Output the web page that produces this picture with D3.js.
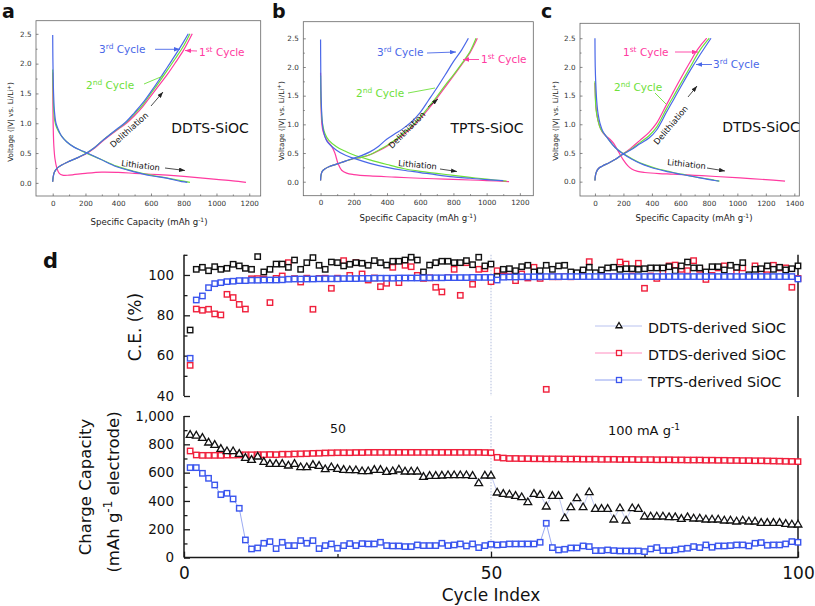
<!DOCTYPE html>
<html><head><meta charset="utf-8">
<script src="https://cdn.jsdelivr.net/npm/d3@7"></script>
<style>
body{margin:0;background:#fff}
svg{display:block}
text{font-family:"DejaVu Sans",Verdana,sans-serif}
</style>
</head><body><script>
// ---------- DATA: voltage profiles [capacity mAh/g, voltage V] ----------
const aLith1 = [[0,1.85],[1,1.4],[3,0.95],[7,0.62],[14,0.4],[25,0.25],[40,0.16],[60,0.13],[100,0.13],[200,0.16],[300,0.18],[400,0.175],[500,0.16],[600,0.145],[700,0.13],[800,0.11],[900,0.085],[1000,0.06],[1100,0.035],[1180,0.01]];
const aLith2 = [[0,1.9],[2,1.6],[5,1.3],[12,1.05],[25,0.92],[50,0.8],[85,0.69],[130,0.6],[190,0.52],[290,0.4],[390,0.28],[490,0.2],[600,0.13],[700,0.08],[790,0.035],[838,0.01]];
const aLith3 = [[0,2.48],[1,2.1],[3,1.75],[6,1.45],[10,1.22],[20,1.0],[35,0.89],[55,0.78],[85,0.69],[130,0.6],[187,0.53],[289,0.4],[390,0.27],[492,0.19],[600,0.12],[696,0.08],[787,0.02],[822,0.01]];
const aDelith1 = [[0,0.02],[3,0.1],[10,0.18],[25,0.24],[50,0.29],[100,0.36],[150,0.42],[200,0.48],[250,0.57],[300,0.69],[350,0.8],[400,0.9],[450,1.0],[500,1.13],[550,1.28],[600,1.46],[650,1.64],[700,1.82],[750,2.02],[800,2.23],[852,2.5]];
const aDelith2 = [[0,0.02],[3,0.1],[10,0.18],[25,0.24],[50,0.29],[100,0.36],[150,0.42],[200,0.49],[250,0.58],[300,0.7],[350,0.81],[400,0.91],[450,1.02],[500,1.16],[550,1.31],[600,1.5],[650,1.69],[700,1.89],[750,2.09],[800,2.3],[838,2.5]];
const aDelith3 = [[0,0.02],[3,0.1],[10,0.18],[25,0.24],[50,0.29],[100,0.36],[150,0.42],[200,0.49],[250,0.58],[300,0.7],[350,0.81],[400,0.92],[450,1.03],[500,1.18],[550,1.34],[600,1.53],[650,1.73],[700,1.94],[750,2.15],[800,2.37],[828,2.5]];

const bLith1 = [[0,1.9],[3,1.3],[8,1.0],[16,0.87],[36,0.73],[66,0.62],[86,0.5],[106,0.31],[127,0.2],[157,0.15],[200,0.125],[297,0.1],[450,0.08],[598,0.06],[750,0.045],[900,0.03],[1000,0.02],[1135,0.0]];
const bLith2 = [[0,1.85],[3,1.4],[10,1.05],[26,0.84],[50,0.72],[96,0.61],[150,0.53],[197,0.47],[297,0.38],[400,0.3],[498,0.23],[600,0.18],[699,0.145],[800,0.11],[900,0.075],[1000,0.045],[1120,0.01]];
const bLith3 = [[0,2.48],[1,2.0],[4,1.4],[16,0.9],[40,0.7],[96,0.55],[150,0.46],[197,0.41],[297,0.32],[400,0.25],[498,0.2],[600,0.16],[699,0.12],[800,0.085],[900,0.06],[1000,0.035],[1100,0.02]];
const bDelith1 = [[0,0.02],[3,0.12],[10,0.18],[25,0.22],[50,0.26],[100,0.31],[150,0.36],[197,0.4],[250,0.43],[297,0.47],[350,0.54],[400,0.62],[450,0.72],[498,0.82],[550,0.95],[600,1.1],[650,1.27],[699,1.45],[750,1.65],[799,1.84],[850,2.04],[900,2.25],[944,2.5]];
const bDelith2 = [[0,0.02],[3,0.12],[10,0.18],[25,0.22],[50,0.26],[100,0.31],[150,0.36],[197,0.4],[250,0.43],[297,0.47],[350,0.55],[400,0.63],[450,0.73],[498,0.84],[550,0.97],[600,1.12],[650,1.3],[699,1.48],[750,1.68],[799,1.86],[850,2.06],[900,2.27],[936,2.5]];
const bDelith3 = [[0,0.02],[3,0.12],[10,0.18],[25,0.22],[50,0.26],[100,0.31],[150,0.36],[197,0.41],[250,0.46],[297,0.52],[350,0.62],[398,0.74],[450,0.84],[498,0.93],[550,1.05],[598,1.2],[650,1.42],[699,1.63],[750,1.86],[799,2.09],[850,2.3],[890,2.5]];

const cLith1 = [[0,1.72],[3,1.5],[7,1.31],[15,1.15],[23,1.05],[40,0.92],[59,0.84],[80,0.79],[105,0.74],[130,0.67],[152,0.58],[175,0.48],[199,0.38],[230,0.28],[258,0.22],[300,0.18],[350,0.16],[450,0.14],[550,0.13],[700,0.11],[850,0.09],[1019,0.065],[1200,0.035],[1335,0.01]];
const cLith2 = [[0,1.75],[3,1.45],[8,1.25],[20,1.08],[40,0.92],[82,0.78],[140,0.6],[199,0.49],[260,0.4],[316,0.33],[380,0.27],[433,0.23],[500,0.19],[550,0.16],[610,0.13],[667,0.1],[730,0.07],[785,0.05],[840,0.025],[875,0.01]];
const cLith3 = [[0,2.5],[2,2.0],[6,1.7],[12,1.42],[22,1.18],[35,1.02],[55,0.88],[82,0.78],[140,0.6],[199,0.48],[260,0.39],[316,0.32],[380,0.26],[433,0.22],[500,0.18],[550,0.155],[610,0.125],[667,0.1],[730,0.07],[785,0.045],[840,0.02],[870,0.01]];
const cDelith1 = [[0,0.02],[3,0.1],[10,0.17],[25,0.23],[50,0.27],[100,0.33],[150,0.4],[190,0.47],[250,0.58],[316,0.72],[380,0.86],[433,1.02],[500,1.33],[550,1.56],[600,1.79],[667,2.08],[720,2.3],[785,2.5]];
const cDelith2 = [[0,0.02],[3,0.1],[10,0.17],[25,0.23],[50,0.27],[100,0.33],[150,0.4],[190,0.47],[250,0.56],[316,0.68],[380,0.8],[433,0.95],[500,1.26],[550,1.48],[600,1.7],[667,1.99],[740,2.3],[803,2.5]];
const cDelith3 = [[0,0.02],[3,0.1],[10,0.17],[25,0.23],[50,0.27],[100,0.33],[150,0.4],[190,0.47],[250,0.55],[316,0.66],[380,0.76],[433,0.9],[500,1.2],[550,1.42],[600,1.64],[667,1.93],[740,2.22],[815,2.5]];

// ---------- DATA: panel d ----------
const cycles = d3.range(1, 101);
const ceDDTS = [72.7,102.8,103.8,102.1,104.1,102.8,103.3,105.3,104.5,103.3,102.8,109.1,101.5,102.8,105.4,105.4,103.8,107.4,102.8,106.1,108.6,104.8,102.8,106.4,106.1,104.5,105.3,106.1,105.8,104.8,107.1,106.1,104.9,106.8,106.8,107.4,108.8,107.4,101.5,104.9,106.1,106.8,106.8,106.1,106.1,107.1,105.1,108.8,104.5,105.4,
 99.2,102.8,103.1,102.1,104.1,104.8,101.5,102.1,104.8,102.8,104.5,104.8,101.5,101.1,102.5,103.8,101.1,102.5,103.5,103.8,102.8,103.1,103.1,102.8,103.1,103.5,103.5,103.5,104.1,102.1,104.5,106.4,103.5,103.5,101.5,104.1,104.1,102.5,104.8,103.8,106.1,100.1,102.8,103.1,104.5,102.8,103.8,102.5,103.1,104.5];
const ceDTDS = [55.2,83.1,82.5,83.0,80.7,80.2,90.4,88.8,85.4,83.1,98.1,98.2,98.0,86.3,98.3,99.5,106.1,98.2,96.5,98.4,83.0,98.3,98.4,93.4,98.4,107.1,99.8,106.1,100.5,97.5,98.5,94.2,95.9,103.8,96.2,104.8,104.1,99.8,98.3,98.6,93.9,91.6,98.7,102.8,89.9,106.1,95.4,102.8,103.1,96.7,
 102.1,99.5,101.8,97.2,100.5,98.5,103.8,98.3,43.3,99.1,99.1,99.2,99.1,99.2,99.2,106.6,99.2,99.2,99.2,99.2,106.4,105.4,99.5,105.8,93.4,99.5,98.3,101.5,104.5,104.9,102.8,102.1,107.1,102.8,97.8,99.8,103.5,104.5,99.2,101.1,103.5,99.2,104.5,101.5,100.1,104.8,103.5,103.5,93.9,98.3];
const ceTPTS = [58.7,87.6,89.6,93.7,95.7,96.2,96.7,96.9,97.2,97.2,97.4,97.4,97.5,97.5,97.5,97.6,97.9,98.0,98.0,98.0,98.0,98.1,98.1,98.1,98.1,98.2,98.2,98.2,98.3,98.3,98.4,98.4,98.4,98.4,98.5,98.5,98.5,98.5,98.6,98.6,98.6,98.6,98.7,98.7,98.7,98.7,98.8,98.8,98.8,98.8,
 97.5,98.9,99.0,99.0,99.1,99.1,99.1,99.1,99.2,99.2,99.2,99.2,99.2,99.2,99.2,99.2,99.2,99.2,99.2,99.2,99.2,99.2,99.2,99.2,99.2,99.2,99.2,99.2,99.2,99.2,99.2,99.2,99.2,99.2,99.2,99.2,99.2,99.2,99.2,99.2,99.2,99.2,99.2,99.2,99.2,99.2,99.2,99.2,99.2,98.0];
const capDDTS = [870.6,865.9,849.4,816.5,800.0,771.8,755.3,755.3,736.5,708.2,694.1,717.6,680.0,665.9,665.9,665.9,654.1,665.9,642.4,642.4,658.8,651.8,628.2,642.4,630.6,623.5,621.2,621.2,614.1,614.1,623.5,623.5,609.4,614.1,625.9,611.8,611.8,611.8,574.1,581.2,581.2,583.5,585.9,585.9,585.9,585.9,581.2,529.4,583.5,583.5,
 463.5,454.1,449.4,440.0,430.6,395.3,454.1,447.1,364.7,440.0,440.0,282.4,360.0,423.5,360.0,465.9,348.2,348.2,348.2,272.9,352.9,265.9,352.9,348.2,294.1,294.1,294.1,294.1,289.4,289.4,277.6,289.4,280.0,280.0,272.9,272.9,272.9,265.9,265.9,258.8,265.9,258.8,258.8,249.4,249.4,249.4,249.4,242.4,237.6,237.6];
const capDTDS = [752.9,724.7,722,722,722,722,724,724,725,726,726,727,727,728,727,730,730,732,733,734,736,737,739,740,741,741,741,742,742,743,743,743,743,743,743,743,743,743,743,743,743,743,743,743,743,743,743,743,742,741,
 708,703,700,700,699,699,698,698,697,697,697,696,696,696,695,695,695,694,694,694,693,693,693,692,692,692,691,691,691,690,690,689,689,689,688,688,687,687,686,686,685,685,684,684,683,682,681,680,679,678];
const capTPTS = [635.3,635.3,595.3,560.0,512.9,444.7,454.1,414.1,348.2,124.7,61.2,68.2,101.2,112.9,63.5,108.2,84.7,84.7,120.0,101.2,120.0,63.5,84.7,96.5,65.9,84.7,98.8,84.7,98.8,96.5,96.5,108.2,84.7,82.4,82.4,77.6,77.6,89.4,84.7,84.7,84.7,101.2,84.7,89.4,96.5,82.4,96.5,70.6,84.7,94.1,
 89.4,91.8,96.5,96.5,96.5,96.5,96.5,108.2,242.4,70.6,54.1,58.8,68.2,68.2,82.4,77.6,49.4,49.4,54.1,49.4,47.0,47.0,47.0,47.0,42.4,61.2,70.6,49.4,49.4,54.1,61.2,65.9,77.6,70.6,89.4,72.9,82.4,82.4,84.7,89.4,89.4,82.4,101.2,105.9,87.1,89.4,89.4,96.5,112.9,108.2];
const seriesNames = ["DDTS-derived SiOC","DTDS-derived SiOC","TPTS-derived SiOC"];
const ceTicks = [40,60,80,100];
const ceMinor = [50,70,90,110];
const capTicks = [0,200,400,600,800,1000];
const capMinor = [100,300,500,700,900];
const cycleTicks = [0,50,100];
const cycleMinor = [25,75];

// ---------- drawing ----------
const W=815,H=606;
const svg=d3.select('body').append('svg').attr('width',W).attr('height',H);
const BLUE='#4a68e8', PINK='#ff3aa0', GREEN='#6ee03a';
const defs=svg.append('defs');
function arrowMarker(id,col){
  defs.append('marker').attr('id',id).attr('viewBox','0 0 8 6').attr('refX',8).attr('refY',3)
    .attr('markerWidth',6).attr('markerHeight',4.5).attr('markerUnits','userSpaceOnUse').attr('orient','auto')
    .append('path').attr('d','M0,0L8,3L0,6Z').attr('fill',col);
}
arrowMarker('arB',BLUE);arrowMarker('arP',PINK);arrowMarker('arK','#222');

function cycleLabel(g,x,y,num,sup,col){
  const t=g.append('text').attr('x',x).attr('y',y).attr('fill',col).attr('font-size',10.5);
  t.append('tspan').text(num);
  t.append('tspan').attr('dy',-4.5).attr('font-size',7.5).text(sup);
  t.append('tspan').attr('dy',4.5).text(' Cycle');
}
function seg(g,x1,y1,x2,y2,col,mk,w){
  const l=g.append('line').attr('x1',x1).attr('y1',y1).attr('x2',x2).attr('y2',y2).attr('stroke',col).attr('stroke-width',w||0.9);
  if(mk) l.attr('marker-end','url(#'+mk+')');
}

const panels=[
 {letter:'a',lx:2,l:36,r:260.7,t:20.7,b:196,xd:[-102,1270],yd:[-0.22,2.72],xmax:1200,name:'DDTS-SiOC',nx:210,ny:133,
  curves:[[aLith1,PINK],[aDelith1,PINK],[aLith2,GREEN],[aDelith2,GREEN],[aLith3,BLUE],[aDelith3,BLUE]],
  xt:149,xty:225,yt:10,yty:122,
  ann:g=>{cycleLabel(g,99,53,'3','rd',BLUE);seg(g,155,49.3,180,49.3,BLUE,'arB');
   cycleLabel(g,199,56,'1','st',PINK);seg(g,197,51,185,50.5,PINK,'arP');
   cycleLabel(g,86,89,'2','nd',GREEN);seg(g,144,84,163,76,GREEN);
   g.append('text').attr('transform','translate(121,166) rotate(7)').attr('font-size',8.3).attr('fill','#111').text('Lithiation');
   seg(g,165,168,185,170.5,'#222','arK',0.8);
   g.append('text').attr('transform','translate(131,132) rotate(-42)').attr('text-anchor','middle').attr('font-size',8.3).attr('fill','#111').text('Delithiation');
   seg(g,151,106,163,92,'#222','arK',0.8);}},
 {letter:'b',lx:272,l:303.3,r:533.3,t:21.7,b:195.7,xd:[-104,1281],yd:[-0.244,2.79],xmax:1200,name:'TPTS-SiOC',nx:487,ny:133,
  curves:[[bLith1,PINK],[bDelith1,PINK],[bLith2,GREEN],[bDelith2,GREEN],[bLith3,BLUE],[bDelith3,BLUE]],
  xt:418,xty:221,yt:280.5,yty:121,
  ann:g=>{cycleLabel(g,377,56,'3','rd',BLUE);seg(g,427,53,456,52,BLUE,'arB');
   cycleLabel(g,481,63,'1','st',PINK);seg(g,479,59.5,463,59.5,PINK,'arP');
   cycleLabel(g,356,97,'2','nd',GREEN);seg(g,408,93,435,88,GREEN);
   g.append('text').attr('transform','translate(398,166) rotate(5)').attr('font-size',8.3).attr('fill','#111').text('Lithiation');
   seg(g,440,169,457,171.5,'#222','arK',0.8);
   g.append('text').attr('transform','translate(409,132) rotate(-45)').attr('text-anchor','middle').attr('font-size',8.3).attr('fill','#111').text('Delithiation');
   seg(g,428,107,438,99,'#222','arK',0.8);}},
 {letter:'c',lx:541,l:580,r:799.3,t:23.3,b:196,xd:[-105,1435],yd:[-0.25,2.76],xmax:1400,name:'DTDS-SiOC',nx:761,ny:132,
  curves:[[cLith1,PINK],[cDelith1,PINK],[cLith2,GREEN],[cDelith2,GREEN],[cLith3,BLUE],[cDelith3,BLUE]],
  xt:694,xty:221,yt:555,yty:121,
  ann:g=>{cycleLabel(g,623,56,'1','st',PINK);seg(g,675,52,698,52,PINK,'arP');
   cycleLabel(g,713,68,'3','rd',BLUE);seg(g,712,64.5,696,64.5,BLUE,'arB');
   cycleLabel(g,614,91,'2','nd',GREEN);seg(g,655,93,666,104,GREEN);
   g.append('text').attr('transform','translate(667,165) rotate(6)').attr('font-size',8.3).attr('fill','#111').text('Lithiation');
   seg(g,707,168,725,171,'#222','arK',0.8);
   g.append('text').attr('transform','translate(673,127) rotate(-50)').attr('text-anchor','middle').attr('font-size',8.3).attr('fill','#111').text('Delithiation');
   seg(g,688,97,697,86,'#222','arK',0.8);}}
];

panels.forEach(p=>{
  const g=svg.append('g');
  const x=d3.scaleLinear().domain(p.xd).range([p.l,p.r]);
  const y=d3.scaleLinear().domain(p.yd).range([p.b,p.t]);
  const xt=d3.range(0,p.xmax+1,200), xm=d3.range(100,p.xmax,200);
  const yt=[0,0.5,1,1.5,2,2.5], ym=[0.25,0.75,1.25,1.75,2.25];
  g.append('g').attr('transform',`translate(0,${p.b})`).call(d3.axisBottom(x).tickValues(xt).tickSize(-2.5).tickPadding(4.5).tickFormat(d3.format('d')));
  g.append('g').attr('transform',`translate(0,${p.b})`).call(d3.axisBottom(x).tickValues(xm).tickSize(-1.5).tickFormat(''));
  g.append('g').attr('transform',`translate(${p.l},0)`).call(d3.axisLeft(y).tickValues(yt).tickSize(-2.5).tickPadding(4.5).tickFormat(d3.format('.1f')));
  g.append('g').attr('transform',`translate(${p.l},0)`).call(d3.axisLeft(y).tickValues(ym).tickSize(-1.5).tickFormat(''));
  g.selectAll('.domain').remove();
  g.selectAll('.tick line').attr('stroke','#555').attr('stroke-width',0.7);
  g.selectAll('.tick text').attr('font-size',7.2).attr('fill','#333').attr('font-family','"DejaVu Sans",sans-serif');
  g.append('rect').attr('x',p.l).attr('y',p.t).attr('width',p.r-p.l).attr('height',p.b-p.t).attr('fill','none').attr('stroke','#666').attr('stroke-width',0.8);
  const line=d3.line().x(d=>x(d[0])).y(d=>y(d[1])).curve(d3.curveCatmullRom.alpha(0.5));
  p.curves.forEach(([d,c])=>g.append('path').attr('d',line(d)).attr('fill','none').attr('stroke',c).attr('stroke-width',1.2));
  const xtT=g.append('text').attr('x',p.xt).attr('y',p.xty).attr('text-anchor','middle').attr('font-size',8.6).attr('fill','#222');
  xtT.append('tspan').text('Specific Capacity (mAh g');
  xtT.append('tspan').attr('dy',-3).attr('font-size',6).text('-1');
  xtT.append('tspan').attr('dy',3).text(')');
  const ytT=g.append('text').attr('transform',`translate(${p.yt+3},${p.yty}) rotate(-90)`).attr('text-anchor','middle').attr('font-size',7.3).attr('fill','#222');
  ytT.append('tspan').text('Voltage (|V| vs. Li/Li');
  ytT.append('tspan').attr('dy',-2.5).attr('font-size',5.5).text('+');
  ytT.append('tspan').attr('dy',2.5).text(')');
  g.append('text').attr('x',p.nx).attr('y',p.ny).attr('text-anchor','middle').attr('font-size',14).attr('fill','#111').text(p.name);
  g.append('text').attr('x',p.lx).attr('y',18).attr('font-size',19).attr('font-weight','bold').attr('font-family','"Liberation Sans",Arial,sans-serif').attr('fill','#111').text(p.letter);
  p.ann(g);
});

// ---------- panel d ----------
const gd=svg.append('g');
const X0=184,X1=798;
const xD=d3.scaleLinear().domain([0,100]).range([X0,X1]);
const yCE=d3.scaleLinear().domain([40,110]).range([396,254.8]);
const yCap=d3.scaleLinear().domain([0,1000]).range([557.6,416]);
const AX='#1a1a1a';
function styleAxis(sel,fs){
  sel.selectAll('.domain').remove();
  sel.selectAll('.tick line').attr('stroke',AX).attr('stroke-width',1.3);
  sel.selectAll('.tick text').attr('font-size',fs).attr('fill','#111').attr('font-family','"DejaVu Sans",sans-serif');
}
gd.append('g').attr('transform',`translate(${X0},0)`).call(d3.axisLeft(yCE).tickValues(ceTicks).tickSize(-6).tickPadding(10)).call(s=>styleAxis(s,13.5));
gd.append('g').attr('transform',`translate(${X0},0)`).call(d3.axisLeft(yCE).tickValues(ceMinor).tickSize(-3.5).tickFormat('')).call(s=>styleAxis(s,13.5));
gd.append('line').attr('x1',X0).attr('x2',X0).attr('y1',yCE(110)).attr('y2',yCE(40)).attr('stroke',AX).attr('stroke-width',1.5);
gd.append('line').attr('x1',X1).attr('x2',X1).attr('y1',yCE(110)).attr('y2',yCE(40)+1).attr('stroke',AX).attr('stroke-width',1.5);
gd.append('g').attr('transform',`translate(${X0},0)`).call(d3.axisLeft(yCap).tickValues(capTicks).tickSize(-6).tickPadding(10)).call(s=>styleAxis(s,13.5));
gd.append('g').attr('transform',`translate(${X0},0)`).call(d3.axisLeft(yCap).tickValues(capMinor).tickSize(-3.5).tickFormat('')).call(s=>styleAxis(s,13.5));
gd.append('g').attr('transform',`translate(0,${yCap(0)})`).call(d3.axisBottom(xD).tickValues(cycleTicks).tickSize(-6).tickPadding(9)).call(s=>styleAxis(s,17));
gd.append('g').attr('transform',`translate(0,${yCap(0)})`).call(d3.axisBottom(xD).tickValues(cycleMinor).tickSize(-3.5).tickFormat('')).call(s=>styleAxis(s,17));
gd.append('line').attr('x1',X0).attr('x2',X0).attr('y1',yCap(1000)).attr('y2',yCap(0)).attr('stroke',AX).attr('stroke-width',1.5);
gd.append('line').attr('x1',X0).attr('x2',X1).attr('y1',yCap(0)).attr('y2',yCap(0)).attr('stroke',AX).attr('stroke-width',1.5);
gd.append('line').attr('x1',X1).attr('x2',X1).attr('y1',yCap(1000)).attr('y2',yCap(0)).attr('stroke',AX).attr('stroke-width',1.5);
[[yCE(110),yCE(40)],[yCap(1000),yCap(0)-6]].forEach(([a,b])=>gd.append('line').attr('x1',xD(50)).attr('x2',xD(50)).attr('y1',a).attr('y2',b).attr('stroke','#a9b6d8').attr('stroke-width',0.9).attr('stroke-dasharray','1.5,1.5'));

const KCOL='#111', RCOL='#f0203c', BCOL='#3a55ee';
const LK='#b9c2ef', LR='#ff8cbf', LB='#8ea0f0';
function squares(data,ys,col,s){
  gd.append('g').selectAll('rect').data(data).join('rect')
    .attr('x',(d,i)=>xD(cycles[i])-s/2).attr('y',d=>ys(d)-s/2).attr('width',s).attr('height',s)
    .attr('fill','#fff').attr('stroke',col).attr('stroke-width',1.4);
}
function tris(data,ys,col,s){
  const sym=d3.symbol().type(d3.symbolTriangle).size(s);
  gd.append('g').selectAll('path').data(data).join('path')
    .attr('transform',(d,i)=>`translate(${xD(cycles[i])},${ys(d)+0.8})`).attr('d',sym)
    .attr('fill','#fff').attr('stroke',col).attr('stroke-width',1.3);
}
function conn(data,ys,col){
  gd.append('path').attr('d',d3.line().x((d,i)=>xD(cycles[i])).y(d=>ys(d))(data)).attr('fill','none').attr('stroke',col).attr('stroke-width',0.9);
}
squares(ceDTDS,yCE,RCOL,5.4);
squares(ceDDTS,yCE,KCOL,5.4);
squares(ceTPTS,yCE,BCOL,5.4);
conn(capDTDS,yCap,LR);conn(capDDTS,yCap,LK);conn(capTPTS,yCap,LB);
squares(capDTDS,yCap,RCOL,5.4);
tris(capDDTS,yCap,KCOL,26);
squares(capTPTS,yCap,BCOL,5.4);

const legY=[326,353,380], legCol=[[LK,KCOL,'tri'],[LR,RCOL,'sq'],[LB,BCOL,'sq']];
seriesNames.forEach((nm,i)=>{
  const [lc,mc,ty]=legCol[i], yy=legY[i];
  gd.append('line').attr('x1',595).attr('x2',642).attr('y1',yy).attr('y2',yy).attr('stroke',lc).attr('stroke-width',1);
  if(ty==='tri') gd.append('path').attr('transform',`translate(619,${yy})`).attr('d',d3.symbol().type(d3.symbolTriangle).size(16)()).attr('fill','#fff').attr('stroke',mc).attr('stroke-width',1.3);
  else gd.append('rect').attr('x',616.5).attr('y',yy-2.5).attr('width',5).attr('height',5).attr('fill','#fff').attr('stroke',mc).attr('stroke-width',1.3);
  gd.append('text').attr('x',648).attr('y',yy+6.5).attr('font-size',14.3).attr('fill','#111').text(nm);
});

gd.append('text').attr('transform','translate(141,327) rotate(-90)').attr('text-anchor','middle').attr('font-size',17).attr('fill','#111').text('C.E. (%)');
gd.append('text').attr('transform','translate(91,487) rotate(-90)').attr('text-anchor','middle').attr('font-size',16.5).attr('fill','#111').text('Charge Capacity');
const cc=gd.append('text').attr('transform','translate(119,492) rotate(-90)').attr('text-anchor','middle').attr('font-size',16.5).attr('fill','#111');
cc.append('tspan').text('(mAh g');
cc.append('tspan').attr('dy',-7).attr('font-size',12).text('-1');
cc.append('tspan').attr('dy',7).text(' electrode)');
gd.append('text').attr('x',491).attr('y',601).attr('text-anchor','middle').attr('font-size',17).attr('fill','#111').text('Cycle Index');
gd.append('text').attr('x',338).attr('y',433).attr('text-anchor','middle').attr('font-size',12.5).attr('fill','#111').text('50');
const ma=gd.append('text').attr('x',608).attr('y',435).attr('font-size',13).attr('fill','#111');
ma.append('tspan').text('100 mA g');
ma.append('tspan').attr('dy',-5).attr('font-size',9).text('-1');
gd.append('text').attr('x',43).attr('y',268).attr('font-size',21).attr('font-weight','bold').attr('font-family','"Liberation Sans",Arial,sans-serif').attr('fill','#111').text('d');
</script></body></html>
